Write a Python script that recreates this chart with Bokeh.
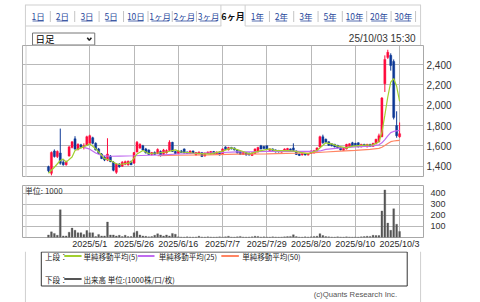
from bokeh.plotting import figure
from bokeh.layouts import column
from bokeh.models import Range1d, FixedTicker, NumeralTickFormatter, Label, BoxAnnotation, ColumnDataSource
from bokeh.embed import file_html
from bokeh.resources import INLINE
from bokeh.core.properties import value

# ---------------- data (trading-day index, 2025/5/1 = 0) ----------------
first_day = -14
opens = [1395, 1330, 1550, 1495, 1530, 1440, 1415, 1500, 1585, 1670, 1565, 1610, 1585, 1605,
         1625, 1680, 1625, 1570, 1520, 1490, 1460, 1500, 1440, 1340, 1420, 1400, 1420, 1415, 1445,
         1430, 1540, 1580, 1600, 1570, 1560, 1515, 1535, 1525, 1545, 1515, 1530, 1555, 1635, 1545,
         1525, 1550, 1570, 1540, 1525, 1550, 1510, 1520, 1535, 1500, 1525, 1520, 1545, 1515, 1540,
         1520, 1590, 1560, 1585, 1580, 1560, 1545, 1515, 1535, 1530, 1505, 1525, 1540, 1600, 1595,
         1600, 1555, 1570, 1560, 1555, 1538, 1545, 1555, 1570, 1580, 1550, 1520, 1510, 1525, 1510,
         1525, 1530, 1550, 1590, 1690, 1665, 1640, 1620, 1615, 1605, 1585, 1555, 1570, 1595, 1630,
         1625, 1630, 1590, 1615, 1590, 1615, 1595, 1620, 1640, 1690, 2210, 2470, 2490, 2430, 1800,
         1690]
highs = [1405, 1545, 1565, 1555, 1770, 1460, 1455, 1600, 1645, 1695, 1625, 1620, 1625, 1700,
         1710, 1690, 1635, 1580, 1530, 1500, 1675, 1510, 1450, 1430, 1430, 1450, 1455, 1455, 1455,
         1540, 1648, 1625, 1610, 1580, 1565, 1540, 1545, 1575, 1555, 1570, 1565, 1655, 1640, 1550,
         1555, 1560, 1575, 1545, 1555, 1555, 1540, 1545, 1540, 1535, 1545, 1550, 1550, 1545, 1545,
         1575, 1595, 1590, 1590, 1585, 1565, 1550, 1540, 1540, 1535, 1535, 1575, 1590, 1610, 1600,
         1605, 1575, 1575, 1565, 1560, 1555, 1575, 1580, 1575, 1625, 1555, 1525, 1530, 1530, 1530,
         1555, 1560, 1585, 1700, 1710, 1672, 1645, 1625, 1620, 1610, 1590, 1580, 1620, 1625, 1640,
         1630, 1635, 1620, 1620, 1620, 1620, 1630, 1670, 1720, 2080, 2490, 2545, 2510, 2450, 1940,
         1830]
lows = [1340, 1310, 1485, 1480, 1415, 1405, 1405, 1495, 1575, 1560, 1555, 1575, 1565, 1600,
        1615, 1615, 1555, 1520, 1470, 1450, 1450, 1440, 1350, 1325, 1385, 1395, 1410, 1405, 1410,
        1425, 1535, 1570, 1555, 1525, 1510, 1505, 1510, 1520, 1495, 1510, 1525, 1550, 1540, 1520,
        1520, 1530, 1525, 1520, 1520, 1525, 1505, 1515, 1490, 1495, 1520, 1515, 1515, 1510, 1505,
        1515, 1560, 1555, 1565, 1555, 1525, 1510, 1510, 1505, 1505, 1500, 1520, 1535, 1565, 1570,
        1560, 1550, 1550, 1535, 1535, 1535, 1540, 1550, 1550, 1550, 1510, 1500, 1505, 1505, 1505,
        1520, 1525, 1545, 1585, 1620, 1630, 1600, 1595, 1585, 1575, 1555, 1550, 1565, 1590, 1595,
        1595, 1585, 1585, 1590, 1585, 1590, 1590, 1615, 1635, 1685, 2130, 2455, 2340, 1860, 1680,
        1680]
closes = [1355, 1535, 1495, 1545, 1430, 1415, 1445, 1590, 1640, 1570, 1615, 1585, 1600, 1690,
          1700, 1625, 1560, 1525, 1475, 1460, 1520, 1445, 1360, 1420, 1395, 1440, 1445, 1450, 1415,
          1535, 1635, 1615, 1560, 1530, 1515, 1535, 1515, 1565, 1505, 1560, 1555, 1635, 1545, 1525,
          1550, 1535, 1530, 1525, 1550, 1530, 1535, 1540, 1495, 1530, 1540, 1545, 1520, 1540, 1510,
          1570, 1565, 1585, 1570, 1560, 1530, 1515, 1535, 1510, 1510, 1530, 1570, 1585, 1570, 1575,
          1565, 1570, 1555, 1540, 1540, 1550, 1570, 1575, 1555, 1555, 1515, 1505, 1525, 1510, 1525,
          1550, 1555, 1580, 1690, 1630, 1635, 1605, 1600, 1590, 1580, 1560, 1575, 1615, 1620, 1600,
          1600, 1590, 1615, 1595, 1615, 1595, 1625, 1665, 1700, 2070, 2450, 2520, 2390, 1880, 1700,
          1720]
volumes = [23, 51, 37, 20, 251, 14, 14, 48, 85, 65, 43, 43, 28, 63,
           43, 43, 9, 28, 14, 14, 140, 23, 23, 14, 20, 9, 20, 9, 9,
           43, 57, 23, 14, 11, 6, 9, 20, 34, 23, 14, 23, 14, 37, 30,
           6, 5, 4, 6, 5, 4, 5, 12, 5, 4, 6, 5, 4, 5, 6,
           5, 6, 12, 5, 4, 6, 10, 5, 4, 5, 6, 12, 10, 5, 6,
           5, 4, 6, 5, 4, 5, 6, 8, 10, 25, 8, 5, 4, 6, 5,
           6, 10, 12, 35, 18, 8, 6, 5, 4, 6, 5, 4, 6, 5, 4,
           5, 4, 6, 8, 12, 10, 20, 18, 18, 240, 430, 130, 65, 260, 120,
           55]
ma5_days = [-14, -12, -10, -9, -8, -6, -5, -3, -1, 0, 2, 4, 5, 7, 9, 10, 13, 14, 16, 18,
            20, 23, 26, 29, 31, 35, 39, 41, 45, 48, 51, 54, 58, 61, 63, 67, 70, 71, 74, 77,
            80, 82, 84, 87, 89, 92, 96, 98, 99, 100, 101, 102, 103, 104, 105]
ma5_vals = [1331, 1390, 1456, 1470, 1440, 1490, 1554, 1580, 1605, 1620, 1571, 1510, 1475, 1456, 1424, 1417, 1430, 1440, 1520, 1554,
            1525, 1530, 1540, 1561, 1540, 1530, 1522, 1522, 1548, 1580, 1554, 1522, 1554, 1571, 1554, 1554, 1545, 1538, 1522, 1554,
            1630, 1620, 1597, 1580, 1597, 1604, 1610, 1640, 1731, 1902, 2081, 2226, 2262, 2186, 2038]
ma25_days = [-2, 0, 2, 4, 7, 10, 15, 20, 25, 30, 35, 40, 45, 50, 55, 60, 65, 70, 75, 78,
             80, 85, 90, 95, 97, 98, 99, 100, 101, 102, 103, 104, 105]
ma25_vals = [1585, 1568, 1530, 1505, 1498, 1500, 1503, 1508, 1512, 1520, 1525, 1530, 1535, 1540, 1542, 1545, 1545, 1545, 1545, 1550,
             1565, 1580, 1590, 1598, 1605, 1610, 1630, 1662, 1698, 1730, 1742, 1748, 1752]
ma50_days = [23, 30, 40, 50, 60, 70, 75, 80, 85, 90, 95, 98, 99, 100, 101, 102, 103, 104, 105]
ma50_vals = [1505, 1508, 1512, 1518, 1522, 1528, 1532, 1540, 1548, 1555, 1565, 1575, 1586, 1604, 1624, 1641, 1648, 1651, 1654]

tick_days = [0, 15, 30, 45, 60, 75, 90, 105]
tick_labels = ["2025/5/1", "2025/5/26", "2025/6/16", "2025/7/7", "2025/7/29", "2025/8/20", "2025/9/10", "2025/10/3"]
price_ticks = [1400, 1600, 1800, 2000, 2200, 2400]
volume_ticks = [100, 200, 300, 400]

tab_labels = ["1日", "2日", "3日", "5日", "10日", "1ヶ月", "2ヶ月", "3ヶ月", "6ヶ月",
              "1年", "2年", "3年", "5年", "10年", "20年", "30年"]
active_tab = "6ヶ月"
legend_labels = ["単純移動平均(5)", "単純移動平均(25)", "単純移動平均(50)"]
volume_legend = "出来高 単位:(1000株/口/枚)"

# ---------------- styling ----------------
W = 480
UP, DOWN = "#ff0a3c", "#0d3896"
MA5_C, MA25_C, MA50_C = "#a2cf2e", "#c06cf0", "#ff8563"
VOL_C = "#555555"
GRID_C = "#b9b9b9"
FRAME_C = "#a8a8a8"
OUTER_C = "#cfcfcf"
LINK_C = "#2b4a9c"
JP = "Noto Sans CJK JP"
LAT = "Liberation Sans"
XR = (-22.8, 113.1)

days = list(range(first_day, first_day + len(closes)))
src = ColumnDataSource(dict(
    day=days, high=highs, low=lows,
    top=[max(o, c) for o, c in zip(opens, closes)],
    bottom=[min(o, c) for o, c in zip(opens, closes)],
    color=[UP if c >= o else DOWN for o, c in zip(opens, closes)],
    volume=volumes))

common = dict(output_backend="svg", toolbar_location=None, min_border=0, title=None,
              background_fill_color="white", border_fill_color="white")


def outer_sides(fig, h):
    for xx in (3, 476):
        fig.add_layout(BoxAnnotation(left=xx, right=xx + 1, top=0, bottom=h,
                                     left_units="screen", right_units="screen",
                                     top_units="screen", bottom_units="screen",
                                     fill_color=OUTER_C, fill_alpha=1, line_color=None,
                                     level="overlay"))


# ---------------- top strip: tabs, selector, timestamp ----------------
TH = 45
top = figure(width=W, height=TH, x_range=Range1d(0, W), y_range=Range1d(TH, 0),
             x_axis_location=None, y_axis_location=None, **common)
top.grid.visible = False
top.outline_line_color = None

tab_centers = [18.8, 47.8, 77.2, 106.2, 135.7, 164.8, 193.7, 222.7, 252,
               281.2, 310, 339.3, 368.3, 397.3, 426.7, 455.7]
tab_widths = [13.5, 13.5, 13.5, 13.5, 18.5, 21, 21, 21, 23, 13.5, 13.5, 13.5, 13.5, 18.5, 18.5, 18.5]
act = tab_labels.index(active_tab)
# frame lines of the tab strip
top.segment(x0=[3, 3, 266.5], y0=[4.5, 25.5, 25.5], x1=[477, 238, 477], y1=[4.5, 25.5, 25.5],
            line_color=OUTER_C, line_width=1)
top.segment(x0=[3.5, 476.5, 237.5, 266.5], y0=[4.5, 4.5, 4.5, 4.5], x1=[3.5, 476.5, 237.5, 266.5],
            y1=[TH, TH, 25.5, 25.5], line_color=OUTER_C, line_width=1)
seps = []
for i in range(len(tab_labels)):
    if i in (act - 1, act):
        continue
    seps.append((tab_centers[i] + tab_centers[i + 1]) / 2 if i + 1 < len(tab_labels) else 470.5)
top.segment(x0=seps, y0=[10.5] * len(seps), x1=seps, y1=[21.5] * len(seps),
            line_color="#c4c4c4", line_width=1)
for i, (lab, cx, tw) in enumerate(zip(tab_labels, tab_centers, tab_widths)):
    if i == act:
        top.text(x=[cx], y=[15.5], text=[lab], text_align="center", text_baseline="middle",
                 text_font=value(JP), text_font_size="9px", text_font_style="bold",
                 text_color="#111111")
        continue
    top.text(x=[cx], y=[15.5], text=[lab], text_align="center", text_baseline="middle",
             text_font=value(JP), text_font_size="8.5px", text_color=LINK_C)
    top.segment(x0=[cx - tw / 2], y0=[20.5], x1=[cx + tw / 2], y1=[20.5], line_color=LINK_C, line_width=0.8)

# selector box (outline drawn as lines)
top.line(x=[12, 86.5, 86.5, 12, 12], y=[32.5, 32.5, 44.5, 44.5, 32.5], line_color="#767676", line_width=1)
top.text(x=[15.5], y=[38.2], text=["日足"], text_baseline="middle", text_font=value(JP),
         text_font_size="9.5px", text_color="#000000")
top.line(x=[77.5, 80, 82.5], y=[37.2, 39.8, 37.2], line_color="#222222", line_width=1.5)
top.text(x=[470.5], y=[37.8], text=["25/10/03 15:30"], text_align="right", text_baseline="middle",
         text_font=value(LAT), text_font_size="10px", text_color="#333333")

# ---------------- price panel ----------------
PH = 132
pf = figure(width=W, height=PH, x_range=Range1d(*XR), y_range=Range1d(1289, 2587),
            x_axis_location=None, y_axis_location="right", **common)
pf.min_border_left = 22
pf.min_border_right = 57
pf.outline_line_color = FRAME_C
pf.xgrid.ticker = FixedTicker(ticks=tick_days)
pf.ygrid.ticker = FixedTicker(ticks=price_ticks)
for g in (pf.xgrid, pf.ygrid):
    g.grid_line_color = GRID_C
    g.grid_line_width = 1
ax = pf.yaxis[0]
ax.ticker = FixedTicker(ticks=price_ticks)
ax.formatter = NumeralTickFormatter(format="0,0")
ax.major_tick_line_color = None
ax.minor_tick_line_color = None
ax.major_tick_out = 0
ax.major_tick_in = 0
ax.axis_line_color = None
ax.major_label_standoff = 3
ax.major_label_text_font = LAT
ax.major_label_text_font_size = "10px"
ax.major_label_text_color = "#333333"

pf.segment(x0="day", y0="low", x1="day", y1="high", line_color="color", line_width=1, source=src)
pf.vbar(x="day", width=0.72, top="top", bottom="bottom", fill_color="color",
        line_color="color", line_width=0.4, source=src)
pf.line(ma50_days, ma50_vals, line_color=MA50_C, line_width=1.2)
pf.line(ma25_days, ma25_vals, line_color=MA25_C, line_width=1.2)
pf.line(ma5_days, ma5_vals, line_color=MA5_C, line_width=1.2)
outer_sides(pf, PH)

# ---------------- volume panel ----------------
VH = 74
vf = figure(width=W, height=VH, x_range=pf.x_range, y_range=Range1d(0, 470),
            x_axis_location="below", y_axis_location="right", **common)
vf.min_border_left = 22
vf.min_border_right = 57
vf.min_border_top = 8
vf.outline_line_color = FRAME_C
vf.xgrid.ticker = FixedTicker(ticks=tick_days)
vf.ygrid.ticker = FixedTicker(ticks=volume_ticks)
for g in (vf.xgrid, vf.ygrid):
    g.grid_line_color = GRID_C
    g.grid_line_width = 1
xa = vf.xaxis[0]
xa.ticker = FixedTicker(ticks=tick_days)
xa.major_label_overrides = {d: s for d, s in zip(tick_days, tick_labels)}
xa.major_tick_line_color = None
xa.minor_tick_line_color = None
xa.major_tick_out = 0
xa.major_tick_in = 0
xa.axis_line_color = None
xa.major_label_standoff = 1
xa.major_label_text_font = LAT
xa.major_label_text_font_size = "9px"
xa.major_label_text_color = "#2a2a2a"
va = vf.yaxis[0]
va.ticker = FixedTicker(ticks=volume_ticks)
va.major_tick_line_color = None
va.minor_tick_line_color = None
va.major_tick_out = 0
va.major_tick_in = 0
va.axis_line_color = None
va.major_label_standoff = 7
va.major_label_text_font = LAT
va.major_label_text_font_size = "9px"
va.major_label_text_color = "#333333"

vf.vbar(x="day", width=0.62, top="volume", bottom=0, fill_color=VOL_C, line_color=VOL_C,
        line_width=0.3, source=src)
vf.add_layout(Label(x=-22, y=422, text="単位: 1000", text_font=JP, text_font_size="8px",
                    text_color="#333333", text_baseline="middle"))
outer_sides(vf, VH)

# ---------------- legend strip ----------------
LH = 302 - TH - PH - VH
y0 = 302 - LH
lf = figure(width=W, height=LH, x_range=Range1d(0, W), y_range=Range1d(302, y0),
            x_axis_location=None, y_axis_location=None, **common)
lf.grid.visible = False
lf.outline_line_color = None
lf.segment(x0=[3.5, 476.5], y0=[y0, y0], x1=[3.5, 476.5], y1=[302, 302], line_color=OUTER_C, line_width=1)
lf.line(x=[22.5, 460.5, 460.5, 22.5, 22.5], y=[y0 + 0.5, y0 + 0.5, 285.5, 285.5, y0 + 0.5],
        line_color="#333333", line_width=1)
lf.segment(x0=[50, 138, 238, 50], y0=[255.5, 255.5, 255.5, 278.5],
           x1=[70.7, 158, 259, 70.7], y1=[255.5, 255.5, 255.5, 278.5],
           line_color=[MA5_C, MA25_C, MA50_C, VOL_C], line_width=2)
lf.text(x=[27, 73, 163, 263, 27, 73], y=[255.7, 255.7, 255.7, 255.7, 278.7, 278.7],
        text=["上段："] + legend_labels + ["下段：", volume_legend],
        text_baseline="middle", text_font=value(JP), text_font_size="7.5px", text_color="#222222")
lf.text(x=[448.3], y=[293.5], text=["(c)Quants Research Inc."], text_align="right",
        text_baseline="middle", text_font=value(LAT), text_font_size="7.7px", text_color="#555555")

layout = column(top, pf, vf, lf, spacing=0)
open("out.html", "w").write(file_html(layout, INLINE))
